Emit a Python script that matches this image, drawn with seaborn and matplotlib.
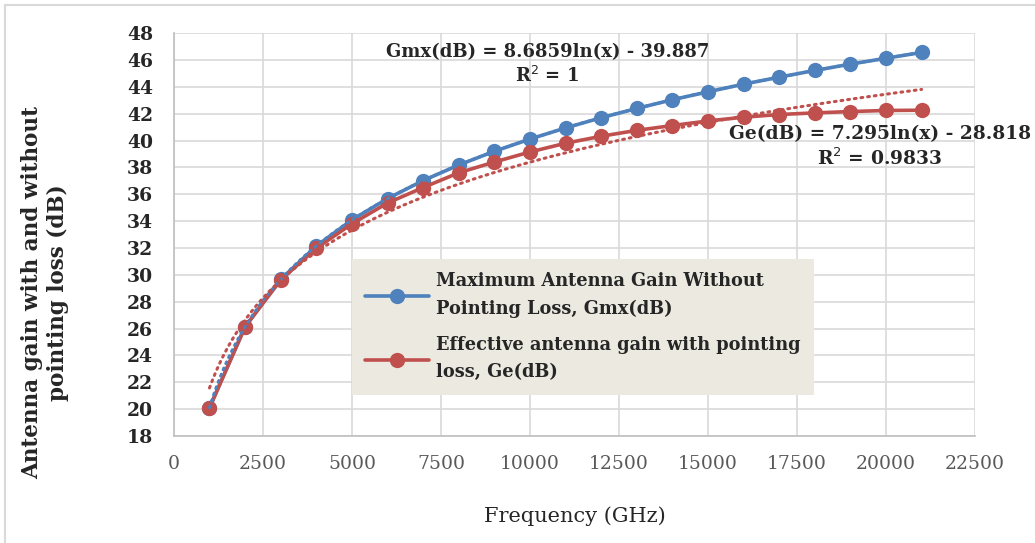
import numpy as np
import pandas as pd
import matplotlib
matplotlib.use('Agg')
import matplotlib.pyplot as plt
import seaborn as sns

freq = [1000, 2000, 3000, 4000, 5000, 6000, 7000, 8000, 9000, 10000, 11000,
        12000, 13000, 14000, 15000, 16000, 17000, 18000, 19000, 20000, 21000]
gmx = [20.11, 26.13, 29.66, 32.15, 34.09, 35.68, 37.02, 38.18, 39.20, 40.11, 40.94,
       41.70, 42.39, 43.04, 43.63, 44.20, 44.72, 45.22, 45.69, 46.13, 46.56]
ge = [20.10, 26.14, 29.62, 31.98, 33.80, 35.35, 36.50, 37.60, 38.40, 39.15, 39.80,
      40.32, 40.76, 41.12, 41.46, 41.74, 41.94, 42.06, 42.16, 42.24, 42.26]
labels = ['Maximum Antenna Gain Without\nPointing Loss, Gmx(dB)',
          'Effective antenna gain with pointing\nloss, Ge(dB)']
colors = ['#4F81BD', '#C0504D']
yticks = list(range(18, 49, 2))
xticks = list(range(0, 22501, 2500))

df = pd.DataFrame({
    'freq': freq * 2,
    'gain': gmx + ge,
    'series': [labels[0]] * len(freq) + [labels[1]] * len(freq),
})

sns.set_style('white')
plt.rcParams['font.family'] = ['DejaVu Serif']

fig = plt.figure(figsize=(10.35, 5.43), dpi=100)
ax = fig.add_axes([0.168, 0.197, 0.774, 0.742])

# log trendlines (drawn like excel, dotted)
xs = np.linspace(freq[0], freq[-1], 200)
for vals, c in zip([gmx, ge], colors):
    k, b = np.polyfit(np.log(freq), vals, 1)
    ax.plot(xs, k * np.log(xs) + b, color=c, lw=2.2, ls=(0, (0.6, 1.6)),
            dash_capstyle='round', zorder=4)

sns.lineplot(data=df, x='freq', y='gain', hue='series', palette=colors,
             marker='o', markersize=11, markeredgewidth=0, linewidth=2.6,
             ax=ax, zorder=3)

ax.set_xlim(0, 22500)
ax.set_ylim(18, 48)
ax.set_xticks(xticks)
ax.set_yticks(yticks)
ax.grid(True, color='#d9d9d9', lw=1.2)
ax.tick_params(axis='x', labelsize=13.5, labelcolor='#595959', length=0, pad=14)
ax.tick_params(axis='y', labelsize=13.5, length=0, pad=15)
for t in ax.get_yticklabels():
    t.set_fontweight('bold')
for s in ['top', 'right']:
    ax.spines[s].set_visible(False)
for s in ['left', 'bottom']:
    ax.spines[s].set_color('#bfbfbf')
    ax.spines[s].set_linewidth(1.2)

ax.set_xlabel('Frequency (GHz)', fontsize=15, labelpad=24)
ax.set_ylabel('Antenna gain with and without\npointing loss (dB)', fontsize=15.5,
              fontweight='bold', va='center')
ax.yaxis.set_label_coords(-0.161, 0.357)

leg = ax.legend(loc='upper left', bbox_to_anchor=(0.222, 0.44), frameon=True,
                fancybox=False, facecolor='#ECEAE0', edgecolor='none',
                prop={'weight': 'bold', 'size': 12.8}, handlelength=3.6,
                labelspacing=1.05, borderpad=0.75, handletextpad=0.4,
                borderaxespad=0)
leg.get_frame().set_alpha(1)
for t in leg.get_texts():
    t.set_linespacing(1.65)

ax.text(0.466, 0.975, 'Gmx(dB) = 8.6859ln(x) - 39.887\nR$^2$ = 1', transform=ax.transAxes,
        ha='center', va='top', fontsize=13, fontweight='bold', linespacing=1.3)
ax.text(0.881, 0.772, 'Ge(dB) = 7.295ln(x) - 28.818\nR$^2$ = 0.9833', transform=ax.transAxes,
        ha='center', va='top', fontsize=13.4, fontweight='bold', linespacing=1.25,
        clip_on=False)

fig.patches.append(plt.Rectangle((0.005, -0.1), 1.1, 1.09, transform=fig.transFigure,
                                 fill=False, edgecolor='#d9d9d9', lw=1.5))

fig.savefig('out.png', dpi=100)
